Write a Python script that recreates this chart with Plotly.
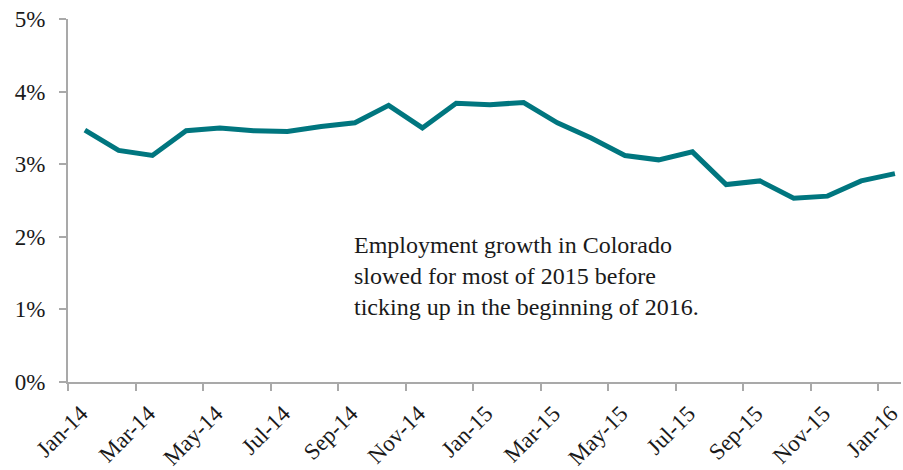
import plotly.graph_objects as go

# Monthly employment growth, Colorado (year-over-year, %)
months = ["Jan-14", "Feb-14", "Mar-14", "Apr-14", "May-14", "Jun-14", "Jul-14",
          "Aug-14", "Sep-14", "Oct-14", "Nov-14", "Dec-14", "Jan-15", "Feb-15",
          "Mar-15", "Apr-15", "May-15", "Jun-15", "Jul-15", "Aug-15", "Sep-15",
          "Oct-15", "Nov-15", "Dec-15", "Jan-16"]
growth = [3.47, 3.19, 3.12, 3.46, 3.50, 3.46, 3.45, 3.52, 3.57, 3.81, 3.50,
          3.84, 3.82, 3.85, 3.57, 3.36, 3.12, 3.06, 3.17, 2.72, 2.77, 2.53,
          2.56, 2.77, 2.87]

# Every other month is labelled on the x axis
tick_labels = months[::2]
y_ticks = [0, 1, 2, 3, 4, 5]

idx = list(range(len(months)))
tick_pos = [i - 0.5 for i in idx[::2]]

FONT = "Liberation Serif"
AXIS = "#A9A9A9"

fig = go.Figure(
    go.Scatter(
        x=idx,
        y=growth,
        mode="lines",
        line=dict(color="#00767F", width=5),
        hovertext=months,
    )
)

fig.add_annotation(
    x=7.9, y=2.09, xref="x", yref="y",
    xanchor="left", yanchor="top", align="left",
    text="Employment growth in Colorado<br>slowed for most of 2015 before<br>ticking up in the beginning of 2016.",
    showarrow=False,
    font=dict(family=FONT, size=24, color="#1a1a1a"),
)

fig.update_layout(
    width=903, height=470,
    margin=dict(l=68, r=0, t=19, b=87),
    paper_bgcolor="white", plot_bgcolor="white",
    showlegend=False,
    font=dict(family=FONT, size=23, color="#1a1a1a"),
    xaxis=dict(
        range=[-0.5, 24.18],
        tickmode="array", tickvals=tick_pos, ticktext=tick_labels,
        tickangle=-45,
        showgrid=False, zeroline=False,
        showline=True, linecolor=AXIS, linewidth=2,
        ticks="outside", ticklen=7, tickcolor=AXIS, tickwidth=2,
        ticklabelshift=13, ticklabeloverflow="allow",
        tickfont=dict(family=FONT, size=23),
    ),
    yaxis=dict(
        range=[0, 5],
        tickmode="array", tickvals=y_ticks,
        ticktext=[f"{v}%" for v in y_ticks],
        showgrid=False, zeroline=False,
        showline=True, linecolor=AXIS, linewidth=2,
        ticks="outside", ticklen=7, tickcolor=AXIS, tickwidth=2,
        ticklabelstandoff=9,
        tickfont=dict(family=FONT, size=23),
    ),
)

fig.write_html("out.html")
